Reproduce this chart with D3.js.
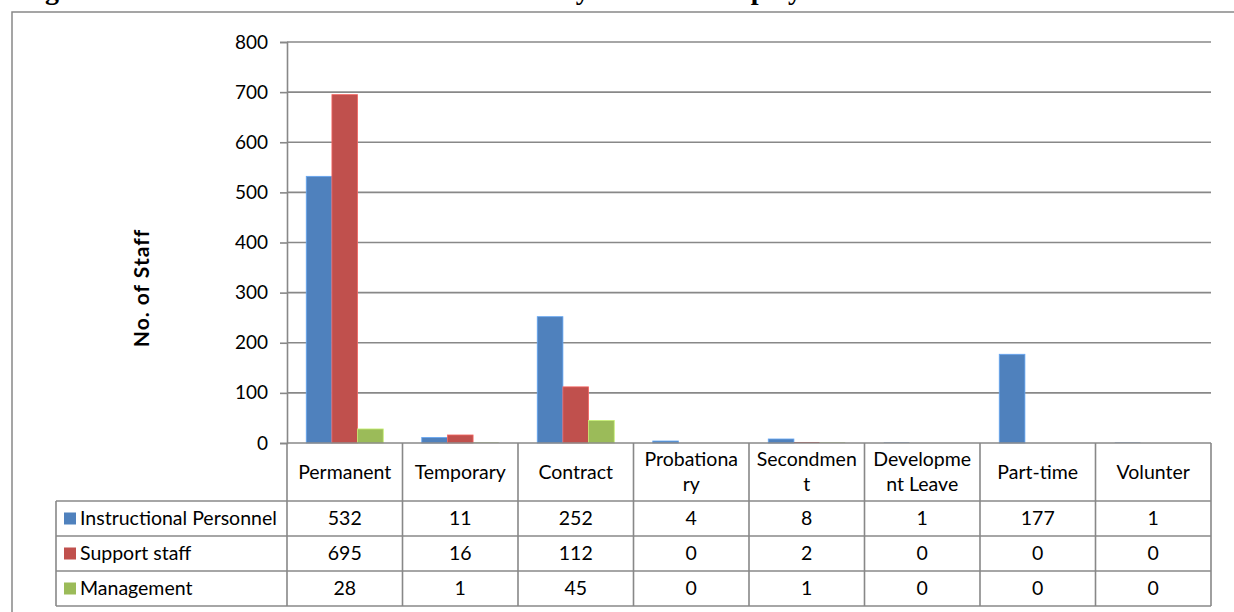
<!DOCTYPE html>
<html>
<head>
<meta charset="utf-8">
<script src="https://cdn.jsdelivr.net/npm/d3@7/dist/d3.min.js"></script>
<style>
  html, body { margin: 0; padding: 0; background: #fff; }
  svg { display: block; }
  text { font-family: Lato, "Noto Sans", sans-serif; fill: #000; }
</style>
</head>
<body>
<svg id="chart" width="1234" height="612"></svg>
<script>
// Staff counts by terms of employment
const categories = ["Permanent", "Temporary", "Contract", "Probationary", "Secondment", "Development Leave", "Part-time", "Volunter"];
// header cell text as it wraps inside the data table
const categoryLines = [["Permanent"], ["Temporary"], ["Contract"], ["Probationa", "ry"], ["Secondmen", "t"], ["Developme", "nt Leave"], ["Part-time"], ["Volunter"]];
const seriesNames = ["Instructional Personnel", "Support staff", "Management"];
const instructional = [532, 11, 252, 4, 8, 1, 177, 1];
const support = [695, 16, 112, 0, 2, 0, 0, 0];
const management = [28, 1, 45, 0, 1, 0, 0, 0];
const yTicks = [0, 100, 200, 300, 400, 500, 600, 700, 800];
const colors = ["#4F81BD", "#C0504D", "#9BBB59"];
const titleText = "Figure 4.5: Distribution of Institutional Staff by Terms of Employment";

const series = [instructional, support, management];

const svg = d3.select("#chart");
const gridColor = "#888888";
const fontSize = "19.5px";

const plot = { left: 287, right: 1211, top: 42, bottom: 443 };
const tableRows = [443, 501, 536, 571, 606];
const tableLeft = 56;

// title (sits above the frame)
svg.append("text")
  .attr("x", 20).attr("y", -1)
  .style("font-family", '"Liberation Serif", "Times New Roman", serif')
  .style("font-weight", "bold")
  .style("font-size", "28px")
  .text(titleText);

// chart frame
svg.append("rect")
  .attr("x", 12).attr("y", 12)
  .attr("width", 1240).attr("height", 620)
  .attr("fill", "none").attr("stroke", gridColor).attr("stroke-width", 1.5);

const x = d3.scaleBand().domain(categories).range([plot.left, plot.right]);
const y = d3.scaleLinear().domain([0, 800]).range([plot.bottom, plot.top]);
const bw = x.bandwidth() / 4.5;
const xs = d3.scaleBand().domain(d3.range(series.length))
  .range([bw * 0.75, x.bandwidth() - bw * 0.75]);

// gridlines
svg.append("g")
  .selectAll("line").data(yTicks.filter(t => t > 0)).join("line")
  .attr("x1", plot.left).attr("x2", plot.right)
  .attr("y1", d => y(d)).attr("y2", d => y(d))
  .attr("stroke", gridColor).attr("stroke-width", 1.6);

// y axis
const yAxis = svg.append("g")
  .attr("transform", `translate(${plot.left},0)`)
  .call(d3.axisLeft(y).tickValues(yTicks).tickSize(7).tickPadding(12));
yAxis.select(".domain").attr("stroke", gridColor).attr("stroke-width", 1.6);
yAxis.selectAll(".tick line").attr("stroke", gridColor).attr("stroke-width", 1.6);
yAxis.selectAll(".tick text")
  .style("font-family", 'Lato, "Noto Sans", sans-serif')
  .style("font-size", "19px").attr("fill", "#000");

svg.append("text")
  .attr("transform", "translate(149,288) rotate(-90)")
  .attr("text-anchor", "middle")
  .style("font-weight", "bold").style("font-size", "21px")
  .style("letter-spacing", "1px")
  .text("No. of Staff");

// bars
series.forEach((vals, si) => {
  svg.append("g")
    .selectAll("rect").data(categories.map((c, i) => ({ c, v: vals[i] }))).join("rect")
    .attr("x", d => x(d.c) + xs(si))
    .attr("width", xs.bandwidth())
    .attr("y", d => y(d.v))
    .attr("height", d => y(0) - y(d.v))
    .attr("fill", colors[si])
    .attr("stroke", d => d.v >= 4 ? d3.color(colors[si]).brighter(0.7) : "none")
    .attr("stroke-width", 0.8);
});

// data table
const tbl = svg.append("g");
const lineAttrs = sel => sel.attr("stroke", gridColor).attr("stroke-width", 1.6);

// horizontal rules
tableRows.forEach((ry, i) => {
  tbl.append("line")
    .attr("x1", i === 0 ? plot.left : tableLeft).attr("x2", plot.right)
    .attr("y1", ry).attr("y2", ry).call(lineAttrs);
});
// vertical rules
const colEdges = categories.map(c => x(c)).concat([plot.right]);
colEdges.forEach(cx => {
  tbl.append("line")
    .attr("x1", cx).attr("x2", cx)
    .attr("y1", plot.bottom).attr("y2", tableRows[4]).call(lineAttrs);
});
tbl.append("line")
  .attr("x1", tableLeft).attr("x2", tableLeft)
  .attr("y1", tableRows[1]).attr("y2", tableRows[4]).call(lineAttrs);

// header text
categoryLines.forEach((lines, i) => {
  const cx = x(categories[i]) + x.bandwidth() / 2;
  const cy = (tableRows[0] + tableRows[1]) / 2;
  const t = tbl.append("text")
    .attr("text-anchor", "middle").style("font-size", fontSize);
  lines.forEach((ln, k) => {
    t.append("tspan")
      .attr("x", cx)
      .attr("y", cy + (k - (lines.length - 1) / 2) * 25)
      .attr("dy", "0.35em")
      .text(ln);
  });
});

// series rows
series.forEach((vals, si) => {
  const cy = (tableRows[si + 1] + tableRows[si + 2]) / 2;
  tbl.append("rect")
    .attr("x", 64).attr("y", cy - 6)
    .attr("width", 12).attr("height", 12)
    .attr("fill", colors[si]);
  tbl.append("text")
    .attr("x", 80).attr("y", cy).attr("dy", "0.35em")
    .style("font-size", fontSize)
    .text(seriesNames[si]);
  vals.forEach((v, i) => {
    tbl.append("text")
      .attr("x", x(categories[i]) + x.bandwidth() / 2)
      .attr("y", cy).attr("dy", "0.35em")
      .attr("text-anchor", "middle")
      .style("font-size", fontSize)
      .text(v);
  });
});
</script>
</body>
</html>
